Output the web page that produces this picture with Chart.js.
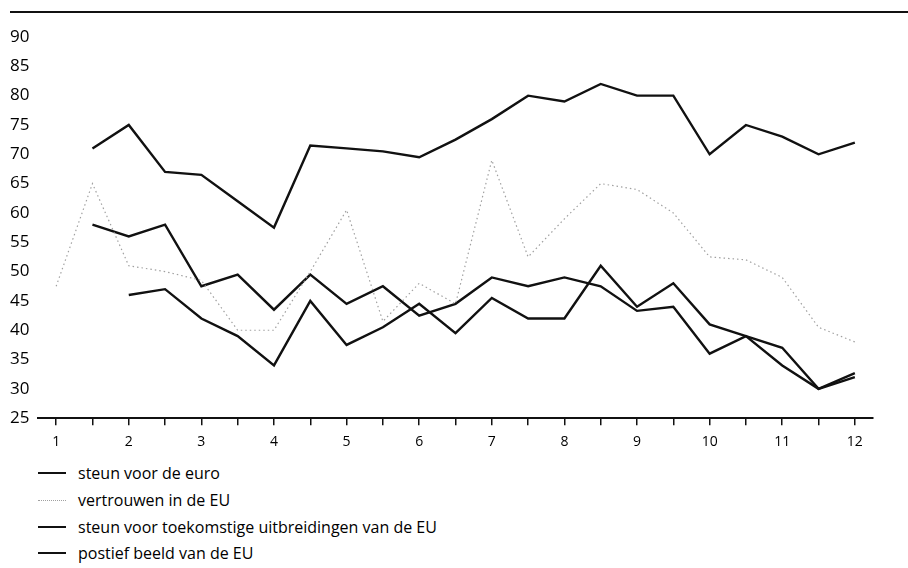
<!DOCTYPE html>
<html>
<head>
<meta charset="utf-8">
<script src="https://cdn.jsdelivr.net/npm/chart.js@4"></script>
<style>
    html, body { margin: 0; padding: 0; background: #fff; }
    #page { position: relative; width: 908px; height: 568px; overflow: hidden; }
    #rule { position: absolute; left: 10px; right: 0; top: 11px; border-top: 2px solid #111; }
    #box { position: absolute; left: 0; top: 0; width: 908px; height: 460px; }
    #legend { position: absolute; left: 38px; top: 460px; font-family: "Open Sans", sans-serif; font-size: 16px; color: #000; }
    #legend div { height: 26.7px; display: flex; align-items: center; }
    #legend span.mark { display: inline-block; width: 28px; height: 0; margin-right: 12px; }
</style>
</head>
<body>
<div id="page">
    <div id="rule"></div>
    <div id="box"><canvas id="chart"></canvas></div>
    <div id="legend"></div>
</div>
<script>
// x positions (half steps) and y tick values
const halfSteps = [1, 1.5, 2, 2.5, 3, 3.5, 4, 4.5, 5, 5.5, 6, 6.5, 7, 7.5, 8, 8.5, 9, 9.5, 10, 10.5, 11, 11.5, 12];
const yTicks = [25, 30, 35, 40, 45, 50, 55, 60, 65, 70, 75, 80, 85, 90];

const seriesNames = [
    "steun voor de euro",
    "vertrouwen in de EU",
    "steun voor toekomstige uitbreidingen van de EU",
    "postief beeld van de EU"
];

const euro       = [null, 71, 75, 67, 66.5, 62, 57.5, 71.5, 71, 70.5, 69.5, 72.5, 76, 80, 79, 82, 80, 80, 70, 75, 73, 70, 72];
const vertrouwen = [47.5, 65, 51, 50, 48.5, 40, 40, 50, 60.5, 41.5, 48, 44.5, 69, 52.5, 59, 65, 64, 60, 52.5, 52, 49, 40.5, 38];
const uitbreiding = [null, 58, 56, 58, 47.5, 49.5, 43.5, 49.5, 44.5, 47.5, 42.5, 44.5, 49, 47.5, 49, 47.5, 43.3, 44, 36, 39, 34, 30, 32];
const beeld      = [null, null, 46, 47, 42, 39, 34, 45, 37.5, 40.5, 44.5, 39.5, 45.5, 42, 42, 51, 44, 48, 41, 39, 37, 30, 32.7];

function points(values) {
    let out = [];
    for(let i in values) {
        if(values[i] == null) continue;
        out.push({x: halfSteps[i], y: values[i]});
    }
    return out;
}

const styles = [
    {borderColor: "#111", borderWidth: 2.4, borderDash: []},
    {borderColor: "#a0a0a0", borderWidth: 1.2, borderDash: [1.5, 3]},
    {borderColor: "#111", borderWidth: 2.4, borderDash: []},
    {borderColor: "#111", borderWidth: 2.4, borderDash: []}
];

const allValues = [euro, vertrouwen, uitbreiding, beeld];

let chart = new Chart("chart", {
    type: "line",
    data: {
        datasets: allValues.map((v, i) => ({
            label: seriesNames[i],
            data: points(v),
            borderColor: styles[i].borderColor,
            borderWidth: styles[i].borderWidth,
            borderDash: styles[i].borderDash,
            pointRadius: 0,
            tension: 0,
            fill: false
        }))
    },
    options: {
        responsive: true,
        maintainAspectRatio: false,
        animation: false,
        layout: {padding: {top: 37, left: 10, right: 35, bottom: 2}},
        plugins: {
            legend: {display: false},
            tooltip: {enabled: false}
        },
        scales: {
            x: {
                type: "linear",
                min: 0.75,
                max: 12.25,
                afterBuildTicks: axis => {
                    axis.ticks = halfSteps.map(v => ({value: v}));
                },
                grid: {drawOnChartArea: false, drawTicks: true, tickLength: 7, color: "#111", lineWidth: 1.5},
                border: {display: true, color: "#111", width: 2},
                ticks: {
                    autoSkip: false,
                    maxRotation: 0,
                    padding: 8,
                    color: "#000",
                    font: {family: "Open Sans", size: 14},
                    callback: v => Number.isInteger(v) ? String(v) : ""
                }
            },
            y: {
                min: 25,
                max: 90,
                afterBuildTicks: axis => {
                    axis.ticks = yTicks.map(v => ({value: v}));
                },
                afterFit: axis => {
                    axis.width = 28;
                },
                grid: {display: false},
                border: {display: false},
                ticks: {
                    crossAlign: "far",
                    padding: 6,
                    color: "#000",
                    font: {family: "Open Sans", size: 17}
                }
            }
        }
    }
});

// legend under the chart, one row per series
let legend = document.getElementById("legend");
chart.data.datasets.forEach(ds => {
    let row = document.createElement("div");
    let mark = document.createElement("span");
    mark.className = "mark";
    let style = ds.borderDash.length ? "dotted" : "solid";
    let width = ds.borderDash.length ? 1.5 : 2;
    mark.style.borderTop = `${width}px ${style} ${ds.borderColor}`;
    row.appendChild(mark);
    row.appendChild(document.createTextNode(ds.label));
    legend.appendChild(row);
});
</script>
</body>
</html>
